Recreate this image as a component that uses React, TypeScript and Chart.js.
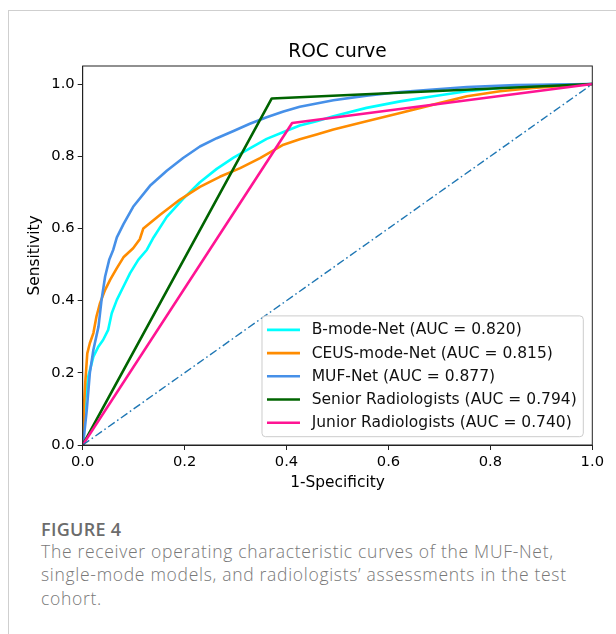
import React, { useEffect, useRef } from "react";
import { Chart, registerables } from "chart.js";

Chart.register(...registerables);

// ---------- data ----------
const bModeX = [0, 0.002, 0.005, 0.011, 0.021, 0.031, 0.04, 0.05, 0.057, 0.067, 0.08, 0.093, 0.109, 0.126, 0.139, 0.165, 0.197, 0.23, 0.263, 0.296, 0.328, 0.361, 0.394, 0.426, 0.459, 0.492, 0.557, 0.623, 0.688, 0.754, 0.819, 0.884, 1.0];
const bModeY = [0, 0.06, 0.125, 0.19, 0.245, 0.273, 0.291, 0.319, 0.365, 0.402, 0.439, 0.476, 0.513, 0.541, 0.575, 0.632, 0.682, 0.728, 0.765, 0.796, 0.822, 0.848, 0.867, 0.885, 0.897, 0.911, 0.934, 0.952, 0.966, 0.98, 0.989, 0.996, 1.0];

const ceusX = [0, 0.001, 0.002, 0.005, 0.009, 0.014, 0.021, 0.027, 0.034, 0.044, 0.054, 0.067, 0.08, 0.099, 0.112, 0.119, 0.152, 0.191, 0.23, 0.269, 0.309, 0.348, 0.394, 0.426, 0.459, 0.492, 0.557, 0.623, 0.688, 0.754, 0.819, 0.884, 1.0];
const ceusY = [0, 0.05, 0.097, 0.172, 0.254, 0.282, 0.31, 0.356, 0.393, 0.43, 0.458, 0.49, 0.52, 0.545, 0.57, 0.6, 0.638, 0.68, 0.715, 0.743, 0.767, 0.795, 0.832, 0.847, 0.86, 0.874, 0.897, 0.92, 0.943, 0.966, 0.98, 0.989, 1.0];

const mufX = [0, 0.003, 0.008, 0.014, 0.021, 0.031, 0.037, 0.044, 0.052, 0.06, 0.067, 0.08, 0.099, 0.132, 0.165, 0.197, 0.23, 0.263, 0.296, 0.328, 0.361, 0.394, 0.426, 0.492, 0.557, 0.623, 0.688, 0.754, 0.85, 1.0];
const mufY = [0, 0.03, 0.097, 0.199, 0.264, 0.328, 0.402, 0.467, 0.513, 0.541, 0.575, 0.612, 0.66, 0.718, 0.76, 0.795, 0.827, 0.85, 0.87, 0.89, 0.908, 0.924, 0.937, 0.955, 0.968, 0.978, 0.985, 0.992, 0.997, 1.0];

const seniorX = [0, 0.371, 1.0];
const seniorY = [0, 0.96, 1.0];

const juniorX = [0, 0.411, 1.0];
const juniorY = [0, 0.892, 1.0];

const chanceX = [0, 1];
const chanceY = [0, 1];

const seriesLabels = [
  "B-mode-Net (AUC = 0.820)",
  "CEUS-mode-Net (AUC = 0.815)",
  "MUF-Net (AUC = 0.877)",
  "Senior Radiologists (AUC = 0.794)",
  "Junior Radiologists (AUC = 0.740)",
];
const seriesColors = ["#00ffff", "#ff8c00", "#4690e8", "#006400", "#ff1493"];
const seriesX = [bModeX, ceusX, mufX, seniorX, juniorX];
const seriesY = [bModeY, ceusY, mufY, seniorY, juniorY];

const xTicks = [0, 0.2, 0.4, 0.6, 0.8, 1.0];
const yTicks = [0, 0.2, 0.4, 0.6, 0.8, 1.0];

const chartTitle = "ROC curve";
const xTitle = "1-Specificity";
const yTitle = "Sensitivity";

const FONT = '"DejaVu Sans", sans-serif';

function toPoints(xs: number[], ys: number[]) {
  return xs.map((x, i) => ({ x, y: ys[i] }));
}

const framePlugin = {
  id: "frameTitleLegend",
  afterDatasetsDraw(chart: any) {
    const { ctx, chartArea } = chart;
    const { left, right, top, bottom } = chartArea;
    ctx.save();
    // frame
    ctx.strokeStyle = "#222";
    ctx.lineWidth = 1;
    ctx.strokeRect(left, top, right - left, bottom - top);

    // title
    ctx.fillStyle = "#000";
    ctx.font = `18.6px ${FONT}`;
    ctx.textAlign = "center";
    ctx.textBaseline = "alphabetic";
    ctx.fillText(chartTitle, (left + right) / 2, top - 9);

    // legend
    const fs = 15.5;
    ctx.font = `${fs}px ${FONT}`;
    let maxW = 0;
    seriesLabels.forEach((l) => {
      maxW = Math.max(maxW, ctx.measureText(l).width);
    });
    const padL = 5;
    const handle = 33;
    const gap = 11.7;
    const padR = 6.6;
    const rowH = 23.2;
    const padV = 14;
    const boxW = padL + handle + gap + maxW + padR;
    const boxH = padV * 2 + rowH * (seriesLabels.length - 1);
    const bx = right - 9 - boxW;
    const by = bottom - 8.3 - boxH;
    const r = 3.5;
    ctx.beginPath();
    ctx.moveTo(bx + r, by);
    ctx.lineTo(bx + boxW - r, by);
    ctx.arcTo(bx + boxW, by, bx + boxW, by + r, r);
    ctx.lineTo(bx + boxW, by + boxH - r);
    ctx.arcTo(bx + boxW, by + boxH, bx + boxW - r, by + boxH, r);
    ctx.lineTo(bx + r, by + boxH);
    ctx.arcTo(bx, by + boxH, bx, by + boxH - r, r);
    ctx.lineTo(bx, by + r);
    ctx.arcTo(bx, by, bx + r, by, r);
    ctx.closePath();
    ctx.fillStyle = "rgba(255,255,255,0.85)";
    ctx.fill();
    ctx.strokeStyle = "#cccccc";
    ctx.lineWidth = 1;
    ctx.stroke();

    seriesLabels.forEach((l, i) => {
      const cy = by + padV + i * rowH;
      ctx.strokeStyle = seriesColors[i];
      ctx.lineWidth = 2.6;
      ctx.lineCap = "butt";
      ctx.beginPath();
      ctx.moveTo(bx + padL, cy);
      ctx.lineTo(bx + padL + handle, cy);
      ctx.stroke();
      ctx.fillStyle = "#111";
      ctx.textAlign = "left";
      ctx.textBaseline = "middle";
      ctx.fillText(l, bx + padL + handle + gap, cy + 0.5);
    });
    ctx.restore();
  },
};

export default function App() {
  const ref = useRef<HTMLCanvasElement>(null);

  useEffect(() => {
    if (!ref.current) return;
    const datasets: any[] = seriesLabels.map((label, i) => ({
      label,
      data: toPoints(seriesX[i], seriesY[i]),
      showLine: true,
      borderColor: seriesColors[i],
      backgroundColor: seriesColors[i],
      borderWidth: 2.6,
      pointRadius: 0,
      pointHoverRadius: 0,
      borderJoinStyle: "round",
      tension: 0,
      order: 10 - i,
    }));
    datasets.push({
      label: "chance",
      data: toPoints(chanceX, chanceY),
      showLine: true,
      borderColor: "#1f77b4",
      borderWidth: 1.4,
      borderDash: [8, 3, 1.6, 3],
      pointRadius: 0,
      pointHoverRadius: 0,
      order: 1,
    });

    const chart = new Chart(ref.current, {
      type: "scatter",
      data: { datasets },
      options: {
        responsive: false,
        animation: false,
        events: [],
        layout: { padding: { left: 26, right: 23.7, top: 66, bottom: 8 } },
        plugins: {
          legend: { display: false },
          title: { display: false },
          tooltip: { enabled: false },
        },
        scales: {
          x: {
            type: "linear",
            min: 0,
            max: 1,
            afterBuildTicks: (s: any) => {
              s.ticks = xTicks.map((v) => ({ value: v }));
            },
            afterFit: (s: any) => {
              s.height = 47;
            },
            ticks: {
              callback: (v: any) => Number(v).toFixed(1),
              font: { family: FONT, size: 14.7 },
              color: "#000",
              padding: 3,
              maxRotation: 0,
              autoSkip: false,
            },
            grid: {
              drawOnChartArea: false,
              drawTicks: true,
              tickLength: 5,
              color: "#222",
              lineWidth: 1,
            },
            border: { display: true, color: "#222", width: 1 },
            title: {
              display: true,
              text: xTitle,
              font: { family: FONT, size: 15.4 },
              color: "#000",
              padding: 0,
            },
          },
          y: {
            type: "linear",
            min: 0,
            max: 1.05,
            afterBuildTicks: (s: any) => {
              s.ticks = yTicks.map((v) => ({ value: v }));
            },
            afterFit: (s: any) => {
              s.width = 56.7;
            },
            ticks: {
              callback: (v: any) => Number(v).toFixed(1),
              font: { family: FONT, size: 14.7 },
              color: "#000",
              padding: 3,
              autoSkip: false,
            },
            grid: {
              drawOnChartArea: false,
              drawTicks: true,
              tickLength: 5,
              color: "#222",
              lineWidth: 1,
            },
            border: { display: true, color: "#222", width: 1 },
            title: {
              display: true,
              text: yTitle,
              font: { family: FONT, size: 15.4 },
              color: "#000",
              padding: 0,
            },
          },
        },
      },
      plugins: [framePlugin],
    } as any);
    return () => chart.destroy();
  }, []);

  return (
    <div>
      <div
        style={{
          position: "absolute",
          left: 8,
          top: 10,
          width: 608,
          height: 624,
          boxSizing: "border-box",
          borderTop: "1px solid #cfcfcf",
          borderLeft: "1px solid #cfcfcf",
        }}
      />
      <canvas
        ref={ref}
        width={616}
        height={500}
        style={{ position: "absolute", left: 0, top: 0, width: 616, height: 500 }}
      />
      <div
        style={{
          position: "absolute",
          left: 41,
          top: 516.7,
          fontFamily: '"Open Sans", sans-serif',
          fontWeight: 600,
          fontSize: 18,
          lineHeight: "24px",
          letterSpacing: "0.3px",
          color: "#6c6c6c",
          whiteSpace: "nowrap",
        }}
      >
        FIGURE 4
      </div>
      <div
        style={{
          position: "absolute",
          left: 41,
          top: 540,
          width: 548,
          fontFamily: '"Open Sans", sans-serif',
          fontWeight: 300,
          fontSize: 17.5,
          lineHeight: "23.4px",
          letterSpacing: "0.7px",
          color: "#787878",
        }}
      >
        The receiver operating characteristic curves of the MUF-Net, single-mode models, and radiologists’ assessments in the test cohort.
      </div>
    </div>
  );
}
